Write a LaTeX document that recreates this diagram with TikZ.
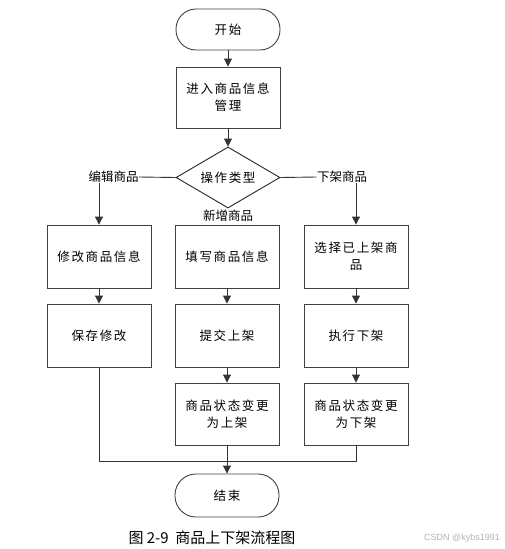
\documentclass[tikz,border=0pt]{standalone}
\usepackage{fontspec}
\newfontfamily\cjk[LetterSpace=13]{Noto Sans CJK SC}
\newfontfamily\cjkl{Noto Sans CJK SC}
\usetikzlibrary{shapes.geometric,arrows.meta}
\begin{document}
\begin{tikzpicture}[x=1pt,y=-1pt,
  every node/.style={font=\cjk\fontsize{12.5}{17}\selectfont,text=black},
  box/.style={draw=black!75,line width=0.9pt,minimum width=104pt,minimum height=63pt,inner sep=0pt,align=center},
  term/.style={draw=black!75,line width=0.9pt,rounded corners=20pt,minimum width=104pt,minimum height=41pt,inner sep=0pt},
  dec/.style={diamond,draw=black!85,line width=0.9pt,minimum width=104pt,minimum height=61pt,aspect=1.7,inner sep=0pt},
  lbl/.style={font=\cjkl\fontsize{12.5}{15}\selectfont,inner sep=0.3pt,fill=white},
  ln/.style={draw=black!80,line width=0.9pt},
  arr/.style={ln,-{Triangle[length=8pt,width=8pt]}}
]
\useasboundingbox (0,0) rectangle (505,549);
\node[term] (start) at (228,29.5) {开始};
\node[box,minimum height=61pt] (b1) at (228,97.5) {进入商品信息\\管理};
\node[dec] (d) at (228,177.5) {操作类型};
\node[lbl] (lblL) at (113.5,177) {编辑商品};
\node[lbl] (lblR) at (342,177) {下架商品};
\node[lbl] (lblM) at (228,216) {新增商品};
\node[box] (l2) at (99,256.5) {修改商品信息};
\node[box] (m2) at (227,256.5) {填写商品信息};
\node[box] (r2) at (356,256.5) {选择已上架商\\品};
\node[box] (l3) at (99,335.5) {保存修改};
\node[box] (m3) at (227,335.5) {提交上架};
\node[box] (r3) at (356,335.5) {执行下架};
\node[box,minimum height=62pt] (m4) at (227,414) {商品状态变更\\为上架};
\node[box,minimum height=62pt] (r4) at (356,414) {商品状态变更\\为下架};
\node[term,minimum height=43pt,rounded corners=21pt] (end) at (227,495.5) {结束};
\coordinate (j) at (227,461);
\draw[arr] (start) -- (b1);
\draw[arr] (b1) -- (d);
\draw[ln] (d.west) -- (lblL.east);
\draw[ln] (d.east) -- (lblR.west);
\draw[arr] (l2.north |- lblL.south) -- (l2.north);
\draw[arr] (r2.north |- lblR.south) -- (r2.north);
\draw[arr] (l2) -- (l3);
\draw[arr] (m2) -- (m3);
\draw[arr] (m3) -- (m4);
\draw[arr] (r2) -- (r3);
\draw[arr] (r3) -- (r4);
\draw[ln] (l3.south) |- (j);
\draw[ln] (r4.south) |- (j);
\draw[arr] (m4.south) -- (end.north);
\node[font=\cjkl\fontsize{15}{18}\selectfont] (cap) at (212,538) {图 2-9\ \ 商品上下架流程图};
\node[font=\fontspec{Liberation Sans}\fontsize{9}{11}\selectfont,text=black!30] (wm) at (462,538) {CSDN @kybs1991};
\end{tikzpicture}
\end{document}
